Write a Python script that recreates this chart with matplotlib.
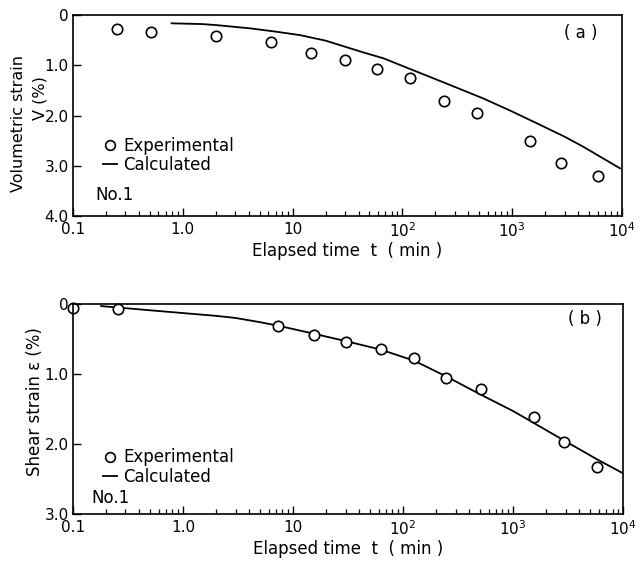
import matplotlib
matplotlib.use("Agg")
import matplotlib.pyplot as plt
from matplotlib.lines import Line2D

plt.rcParams['font.family'] = ['DejaVu Sans']

# ---- Data (a) volumetric strain ----
t_exp_a = [0.25, 0.51, 2.0, 6.4, 14.8, 30, 59, 117, 239, 475, 1460, 2810, 6000]
v_exp_a = [0.28, 0.33, 0.41, 0.53, 0.76, 0.89, 1.08, 1.25, 1.72, 1.94, 2.51, 2.95, 3.20]
t_calc_a = [0.79, 1.5, 2.0, 4.1, 7.0, 11.7, 20, 30, 45, 67, 126, 250, 546, 1000, 1556,
            3000, 4436, 9600]
v_calc_a = [0.165, 0.18, 0.20, 0.265, 0.33, 0.40, 0.51, 0.63, 0.75, 0.86, 1.10, 1.36,
            1.66, 1.92, 2.12, 2.42, 2.62, 3.05]

# ---- Data (b) shear strain ----
t_exp_b = [0.1, 0.255, 7.3, 15.4, 30, 62.5, 126, 247, 508, 1540, 2900, 5820]
e_exp_b = [0.06, 0.076, 0.32, 0.45, 0.54, 0.65, 0.77, 1.06, 1.22, 1.61, 1.97, 2.33]
t_calc_b = [0.18, 0.5, 1.0, 2.0, 3.0, 5.0, 7.3, 15, 30, 62, 126, 250, 500, 1000, 1540,
            2900, 5800, 10000]
e_calc_b = [0.03, 0.09, 0.13, 0.17, 0.20, 0.26, 0.31, 0.42, 0.53, 0.65, 0.81, 1.04,
            1.29, 1.53, 1.70, 1.95, 2.22, 2.42]

xticks = [0.1, 1, 10, 100, 1000, 10000]
xticklabels = ["0.1", "1.0", "10", "10$^2$", "10$^3$", "10$^4$"]
yticks_a = [0, 1, 2, 3, 4]
yticklabels_a = ["0", "1.0", "2.0", "3.0", "4.0"]
yticks_b = [0, 1, 2, 3]
yticklabels_b = ["0", "1.0", "2.0", "3.0"]

fig = plt.figure(figsize=(6.42, 5.67), dpi=100)
axA = fig.add_axes([0.1137, 0.619, 0.855, 0.3545])
axB = fig.add_axes([0.1137, 0.0935, 0.857, 0.3704])

FS = 12


def style(ax, yticks, yticklabels, ymax):
    ax.set_xscale('log')
    ax.set_xlim(0.1, 10000)
    ax.set_ylim(ymax, 0)
    ax.set_xticks(xticks)
    ax.set_xticklabels(xticklabels, fontsize=11)
    ax.set_yticks(yticks)
    ax.set_yticklabels(yticklabels, fontsize=11)
    ax.tick_params(axis='x', which='major', direction='in', length=6, width=1, pad=4,
                   top=False)
    ax.tick_params(axis='x', which='minor', direction='in', length=3.5, width=0.9,
                   top=False)
    ax.tick_params(axis='y', which='major', direction='in', length=6, width=1, pad=3,
                   right=False)
    ax.tick_params(axis='y', which='minor', left=False, right=False)
    for s in ax.spines.values():
        s.set_linewidth(1.2)
    ax.set_xlabel("Elapsed time  t  ( min )", fontsize=FS, labelpad=1)


# ---- panel (a) ----
style(axA, yticks_a, yticklabels_a, 4)
axA.plot(t_calc_a, v_calc_a, '-', color='black', lw=1.3)
axA.plot(t_exp_a, v_exp_a, 'o', mfc='white', mec='black', ms=7.5, mew=1.2, ls='none')
axA.text(0.925, 0.91, "( a )", transform=axA.transAxes, fontsize=FS,
         ha='center', va='center')
axA.text(0.04, 0.105, "No.1", transform=axA.transAxes, fontsize=FS,
         ha='left', va='center')
axA.text(-0.1, 0.46, "Volumetric strain", transform=axA.transAxes, fontsize=11.5,
         rotation=90, ha='center', va='center')
axA.text(-0.06, 0.585, "V (%)", transform=axA.transAxes, fontsize=11.5,
         rotation=90, ha='center', va='center')

# ---- panel (b) ----
style(axB, yticks_b, yticklabels_b, 3)
axB.plot(t_calc_b, e_calc_b, '-', color='black', lw=1.3)
axB.plot(t_exp_b, e_exp_b, 'o', mfc='white', mec='black', ms=7.5, mew=1.2, ls='none',
         clip_on=False)
axB.text(0.93, 0.93, "( b )", transform=axB.transAxes, fontsize=FS,
         ha='center', va='center')
axB.text(0.034, 0.075, "No.1", transform=axB.transAxes, fontsize=FS,
         ha='left', va='center')
axB.text(-0.069, 0.536, "Shear strain ε (%)", transform=axB.transAxes, fontsize=FS,
         rotation=90, ha='center', va='center')

handles = [
    Line2D([], [], marker='o', mfc='white', mec='black', ms=7, mew=1.2, ls='none'),
    Line2D([], [], color='black', lw=1.3),
]
labels = ["Experimental", "Calculated"]
for ax, y0 in [(axA, 0.395), (axB, 0.312)]:
    ax.legend(handles, labels, loc='upper left', bbox_to_anchor=(0.055, y0),
              frameon=False, fontsize=FS, handlelength=0.8, handletextpad=0.4,
              labelspacing=0.1, borderpad=0, borderaxespad=0)

fig.savefig("out.png", dpi=100)
